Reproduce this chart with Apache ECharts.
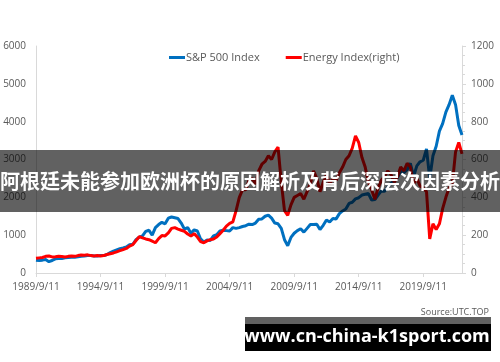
<!DOCTYPE html>
<html><head><meta charset="utf-8">
<script src="https://cdn.jsdelivr.net/npm/echarts@6/dist/echarts.min.js"></script>
<style>html,body{margin:0;padding:0;background:#fff}#c{width:500px;height:362px}</style>
</head><body><div id="c"></div>
<script>
// Quarterly dates from 1989/9/11 to 2022/9/11
var startYear = 1989, startMonth = 9, nPoints = 133;
var categories = [];
for (var i = 0; i < nPoints; i++) {
  var m = startMonth + 3 * i;
  var y = startYear + Math.floor((m - 1) / 12);
  var mm = ((m - 1) % 12) + 1;
  categories.push(y + '/' + mm + '/11');
}
var seriesNames = ['S&P 500 Index', 'Energy Index(right)'];
var leftTicks = [0, 1000, 2000, 3000, 4000, 5000, 6000];
var rightTicks = [0, 200, 400, 600, 800, 1000, 1200];

var sp500 = [340,330,340,355,300,330,375,380,385,405,410,415,415,430,445,450,460,465,450,450,
  465,460,490,540,580,610,640,660,690,750,760,880,950,980,1100,1130,1000,1200,1280,1340,
  1300,1450,1480,1460,1440,1320,1160,1200,1050,1140,1110,900,820,870,860,980,1010,1110,1130,1120,
  1110,1200,1180,1200,1230,1250,1290,1280,1320,1420,1430,1500,1530,1450,1320,1300,1180,880,720,940,
  1050,1120,1170,1080,1180,1280,1280,1290,1150,1260,1400,1350,1440,1430,1570,1640,1690,1840,1870,1960,
  1990,2060,2080,2100,1930,1940,2060,2170,2160,2270,2370,2440,2520,2690,2650,2730,2900,2550,2830,2940,
  2980,3280,2500,3100,3350,3750,3950,4250,4450,4700,4450,3900,3650];

var energy = [78,80,82,88,90,85,86,88,87,85,88,90,88,92,95,94,96,92,90,92,
  90,92,98,102,106,112,118,124,130,142,150,172,192,186,180,176,168,160,182,198,
  196,212,236,240,232,226,220,206,196,208,190,166,160,170,176,180,190,208,226,248,
  262,270,330,400,440,440,490,500,470,540,575,590,620,600,640,665,480,330,305,360,
  400,410,420,390,430,470,540,500,430,480,520,470,500,490,530,560,600,620,660,725,
  690,610,560,480,440,390,450,490,510,540,520,480,510,560,540,580,560,470,500,460,
  450,430,180,260,230,260,340,400,450,470,640,690,630];

var axisColor = '#d9d9d9', labelColor = '#595959', font = '"Open Sans", "Liberation Sans", sans-serif';
var plain = function (v) { return String(v); };
var chart = echarts.init(document.getElementById('c'), null, {renderer: 'canvas'});
chart.setOption({
  animation: false,
  backgroundColor: '#ffffff',
  grid: {left: 36, right: 38, top: 46, bottom: 89, containLabel: false},
  legend: {
    data: seriesNames, left: 164, top: 47, itemGap: 26, itemWidth: 16, itemHeight: 3,
    icon: 'rect', textStyle: {color: labelColor, fontSize: 11, fontFamily: font, padding: [0, 0, 0, -4]}
  },
  xAxis: {
    type: 'category', data: categories, boundaryGap: false,
    axisLine: {lineStyle: {color: axisColor}},
    axisTick: {show: true, interval: 19, length: 4, lineStyle: {color: axisColor}},
    axisLabel: {interval: 19, color: labelColor, fontSize: 10, fontFamily: font, margin: 9}
  },
  yAxis: [{
    type: 'value', min: leftTicks[0], max: leftTicks[leftTicks.length - 1], interval: 1000,
    axisLine: {show: true, lineStyle: {color: axisColor}}, axisTick: {show: false},
    splitLine: {show: false},
    axisLabel: {color: labelColor, fontSize: 10, fontFamily: font, margin: 10, formatter: plain}
  }, {
    type: 'value', min: rightTicks[0], max: rightTicks[rightTicks.length - 1], interval: 200,
    axisLine: {show: true, lineStyle: {color: axisColor}},
    axisTick: {show: true, length: 4, lineStyle: {color: axisColor}},
    minorTick: {show: true, splitNumber: 4, length: 3, lineStyle: {color: axisColor}},
    splitLine: {show: false}, minorSplitLine: {show: false},
    axisLabel: {color: labelColor, fontSize: 10, fontFamily: font, margin: 9, formatter: plain}
  }],
  series: [{
    name: seriesNames[0], type: 'line', data: sp500, yAxisIndex: 0, showSymbol: false,
    lineStyle: {color: '#0070C0', width: 3}, itemStyle: {color: '#0070C0'}
  }, {
    name: seriesNames[1], type: 'line', data: energy, yAxisIndex: 1, showSymbol: false,
    lineStyle: {color: '#FF0000', width: 3}, itemStyle: {color: '#FF0000'}
  }],
  graphic: [
    {type: 'text', z: 50, style: {text: 'Source:UTC.TOP', x: 489, y: 312, fill: labelColor,
      font: '9px ' + font, textAlign: 'right', textVerticalAlign: 'middle', align: 'right', verticalAlign: 'middle'}},
    {type: 'rect', z: 100, shape: {x: 0, y: 150, width: 500, height: 62}, style: {fill: 'rgba(0,0,0,0.62)'}},
    {type: 'text', z: 101, style: {text: '阿根廷未能参加欧洲杯的原因解析及背后深层次因素分析', x: 250, y: 181,
      fill: '#ffffff', font: 'bold 20px "Noto Sans CJK SC"', textAlign: 'center', textVerticalAlign: 'middle', align: 'center', verticalAlign: 'middle'}},
    {type: 'rect', z: 100, shape: {x: 245, y: 317, width: 246, height: 7}, style: {fill: 'rgba(0,0,0,0.62)'}},
    {type: 'rect', z: 100, shape: {x: 245, y: 324, width: 246, height: 27}, style: {fill: '#000000'}},
    {type: 'text', z: 101, style: {text: 'www.cn-china-k1sport.com', x: 367, y: 337, fill: '#ffffff',
      font: 'bold 18px "Open Sans", sans-serif', textAlign: 'center', textVerticalAlign: 'middle', align: 'center', verticalAlign: 'middle'}}
  ]
});
</script></body></html>
